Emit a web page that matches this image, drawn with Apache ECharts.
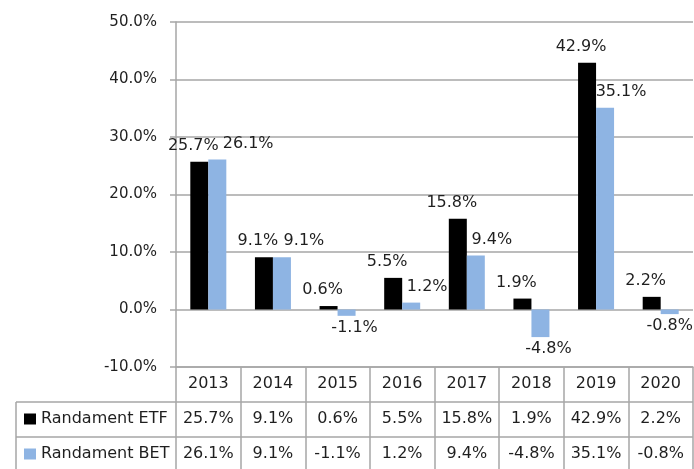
<!DOCTYPE html>
<html>
<head>
<meta charset="utf-8">
<script src="https://cdn.jsdelivr.net/npm/echarts@6/dist/echarts.min.js"></script>
<style>
  html, body { margin: 0; padding: 0; background: #fff; }
  #chart { width: 694px; height: 469px; }
</style>
</head>
<body>
<div id="chart"></div>
<script>
// categories and series
const years = ['2013', '2014', '2015', '2016', '2017', '2018', '2019', '2020']
const etf = [25.7, 9.1, 0.6, 5.5, 15.8, 1.9, 42.9, 2.2]
const bet = [26.1, 9.1, -1.1, 1.2, 9.4, -4.8, 35.1, -0.8]
const seriesNames = ['Randament ETF', 'Randament BET']

// value axis ticks
const yMin = -10
const yMax = 50
const yStep = 10

const FONT = 'DejaVu Sans'
const TEXT = '#1f1f1f'
const LINE = '#a6a6a6'
const FS = 16
const BAR_W = 18
const WIDTH = 694

const pct = v => v.toFixed(1) + '%'

// bar label: above positive bars, below negative ones
function barData(values) {
  return values.map(v => ({
    value: v,
    label: { position: v < 0 ? 'bottom' : 'top', distance: v < 0 ? 4 : 8 }
  }))
}

// push the BET label right so it does not sit on the ETF bar / label
function betLabelShift(p) {
  const i = p.dataIndex
  const e = etf[i]
  const b = bet[i]
  const room = WIDTH - 1 - (p.labelRect.x + p.labelRect.width)
  if (b < 0) return { dx: Math.min(8, room) }
  const pxPerUnit = p.rect.height / Math.abs(b)
  let dx = 16
  if (e > 0 && Math.abs(e - b) * pxPerUnit < p.labelRect.height) {
    dx = Math.max(22, p.labelRect.width - 20)
  }
  return { dx: Math.min(dx, room) }
}

const chart = echarts.init(document.getElementById('chart'))

// table rows below the plot (one extra category axis per row)
function rowAxis(values, offset) {
  return {
    type: 'category',
    position: 'bottom',
    offset: offset,
    data: values.map(pct),
    axisLine: { show: false, onZero: false },
    axisTick: { show: false },
    axisLabel: { margin: 9, fontFamily: FONT, fontSize: FS, color: TEXT, interval: 0 }
  }
}

const option = {
  backgroundColor: '#fff',
  animation: false,
  textStyle: { fontFamily: FONT },
  grid: { left: 176, right: 1, top: 22, bottom: 102, containLabel: false, outerBoundsMode: 'none' },
  legend: {
    data: seriesNames,
    orient: 'vertical',
    left: 24,
    top: 411,
    padding: 0,
    itemGap: 19,
    itemWidth: 12,
    itemHeight: 11,
    icon: 'rect',
    selectedMode: false,
    textStyle: { fontFamily: FONT, fontSize: FS, color: TEXT, lineHeight: 16 }
  },
  xAxis: [
    {
      type: 'category',
      data: years,
      position: 'bottom',
      boundaryGap: true,
      axisLine: { show: true, onZero: false, lineStyle: { color: LINE, width: 1.5 } },
      axisTick: { show: true, interval: 0, length: 102, lineStyle: { color: LINE, width: 1.5 } },
      axisLabel: { margin: 9, fontFamily: FONT, fontSize: FS, color: TEXT, interval: 0 },
      splitLine: { show: false }
    },
    rowAxis(etf, 35),
    rowAxis(bet, 70)
  ],
  yAxis: {
    type: 'value',
    min: yMin,
    max: yMax,
    interval: yStep,
    axisLine: { show: true, onZero: false, lineStyle: { color: LINE, width: 1.5 } },
    axisTick: { show: true, length: 6, lineStyle: { color: LINE, width: 1.5 } },
    axisLabel: { margin: 19, fontFamily: FONT, fontSize: 15, color: TEXT, formatter: pct },
    splitLine: { show: true, lineStyle: { color: LINE, width: 1.5 } }
  },
  series: [
    {
      name: seriesNames[0],
      type: 'bar',
      xAxisIndex: 0,
      barWidth: BAR_W,
      barGap: '0%',
      itemStyle: { color: '#000000' },
      label: {
        show: true,
        formatter: p => pct(p.value),
        fontFamily: FONT,
        fontSize: FS,
        color: TEXT,
        offset: [-6, 0]
      },
      data: barData(etf)
    },
    {
      name: seriesNames[1],
      type: 'bar',
      xAxisIndex: 0,
      barWidth: BAR_W,
      barGap: '0%',
      itemStyle: { color: '#8eb4e3' },
      label: {
        show: true,
        formatter: p => pct(p.value),
        fontFamily: FONT,
        fontSize: FS,
        color: TEXT
      },
      labelLayout: betLabelShift,
      data: barData(bet)
    }
  ],
  // borders of the data table and its legend column
  graphic: [
    { type: 'line', silent: true, shape: { x1: 16, y1: 402, x2: 693, y2: 402 }, style: { stroke: LINE, lineWidth: 1.5 } },
    { type: 'line', silent: true, shape: { x1: 16, y1: 437, x2: 693, y2: 437 }, style: { stroke: LINE, lineWidth: 1.5 } },
    { type: 'line', silent: true, shape: { x1: 16, y1: 402, x2: 16, y2: 469 }, style: { stroke: LINE, lineWidth: 1.5 } }
  ]
}

chart.setOption(option)
window.addEventListener('resize', () => chart.resize())
</script>
</body>
</html>
